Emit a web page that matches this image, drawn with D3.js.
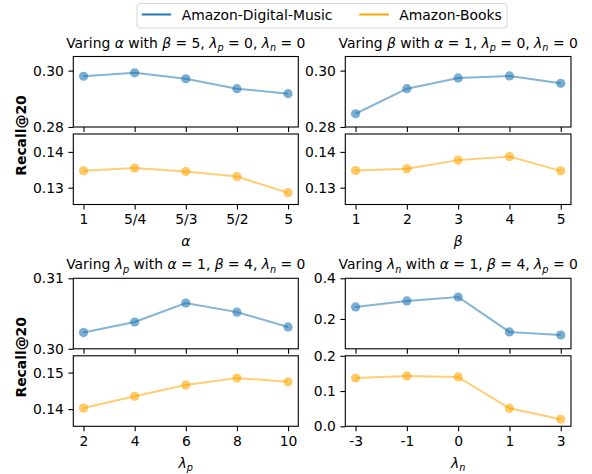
<!DOCTYPE html>
<html><head><meta charset="utf-8">
<script src="https://cdn.jsdelivr.net/npm/d3@7"></script>
<style>body{margin:0;background:#fff}svg{display:block}text{font-family:"DejaVu Sans",sans-serif;fill:#000}</style>
</head><body><svg id="c" width="592" height="474"></svg>
<script>
// ---- data ----
const seriesNames = ["Amazon-Digital-Music", "Amazon-Books"];
const alphaCats = ["1", "5/4", "5/3", "5/2", "5"];
const alphaMusic = [0.2980, 0.2992, 0.2971, 0.2936, 0.2918];
const alphaBooks = [0.1347, 0.1355, 0.1345, 0.1331, 0.1286];
const betaCats = ["1", "2", "3", "4", "5"];
const betaMusic = [0.2847, 0.2936, 0.2974, 0.2981, 0.2955];
const betaBooks = [0.1348, 0.1353, 0.1377, 0.1387, 0.1347];
const lpCats = ["2", "4", "6", "8", "10"];
const lpMusic = [0.3023, 0.3038, 0.3065, 0.3052, 0.3031];
const lpBooks = [0.1403, 0.1435, 0.1466, 0.1485, 0.1475];
const lnCats = ["-3", "-1", "0", "1", "3"];
const lnMusic = [0.259, 0.2885, 0.308, 0.136, 0.121];
const lnBooks = [0.137, 0.143, 0.140, 0.051, 0.020];
// y tick values
const alphaMusicTicks = [0.28, 0.30], alphaBooksTicks = [0.13, 0.14];
const betaMusicTicks = [0.28, 0.30], betaBooksTicks = [0.13, 0.14];
const lpMusicTicks = [0.30, 0.31], lpBooksTicks = [0.14, 0.15];
const lnMusicTicks = [0.2, 0.4], lnBooksTicks = [0.0, 0.1, 0.2];

const svg = d3.select("#c");
const colors = ["#1f77b4", "#ffa500"];
const FS = 13.9;

function richText(g, x, y, parts, anchor) {
  const t = g.append("text").attr("x", x).attr("y", y).attr("text-anchor", anchor || "middle").style("font-size", FS + "px");
  parts.forEach(p => {
    const s = t.append("tspan").text(p.t);
    if (p.i) s.style("font-style", "italic");
    if (p.sub) s.style("font-size", (FS * 0.7) + "px").attr("dy", 3.5);
    if (p.after) s.attr("dy", -3.5);
  });
  return t;
}
const I = s => ({t: s, i: true});
const SUB = s => ({t: s, i: true, sub: true});

const panels = [
  {x0: 73.3, x1: 298.3, top: 56.5, cats: alphaCats, music: alphaMusic, books: alphaBooks,
   mDom: [0.28, 0.305], bDom: [0.1253, 0.145], mT: alphaMusicTicks, bT: alphaBooksTicks, fmtM: ".2f", fmtB: ".2f",
   title: [{t:"Varing "}, I("α"), {t:" with "}, I("β"), {t:" = 5, "}, I("λ"), SUB("p"), {t:" = 0, ", after:true}, I("λ"), SUB("n"), {t:" = 0", after:true}],
   xlab: [I("α")], ylab: true},
  {x0: 345.3, x1: 571, top: 56.5, cats: betaCats, music: betaMusic, books: betaBooks,
   mDom: [0.28, 0.305], bDom: [0.1253, 0.145], mT: betaMusicTicks, bT: betaBooksTicks, fmtM: ".2f", fmtB: ".2f",
   title: [{t:"Varing "}, I("β"), {t:" with "}, I("α"), {t:" = 1, "}, I("λ"), SUB("p"), {t:" = 0, ", after:true}, I("λ"), SUB("n"), {t:" = 0", after:true}],
   xlab: [I("β")], ylab: false},
  {x0: 73.3, x1: 298.3, top: 278.3, cats: lpCats, music: lpMusic, books: lpBooks,
   mDom: [0.30, 0.31], bDom: [0.1353, 0.1546], mT: lpMusicTicks, bT: lpBooksTicks, fmtM: ".2f", fmtB: ".2f",
   title: [{t:"Varing "}, I("λ"), SUB("p"), {t:" with ", after:true}, I("α"), {t:" = 1, "}, I("β"), {t:" = 4, "}, I("λ"), SUB("n"), {t:" = 0", after:true}],
   xlab: [I("λ"), SUB("p")], ylab: true},
  {x0: 345.3, x1: 571, top: 278.3, cats: lnCats, music: lnMusic, books: lnBooks,
   mDom: [0.053, 0.4], bDom: [0, 0.2], mT: lnMusicTicks, bT: lnBooksTicks, fmtM: ".1f", fmtB: ".1f",
   title: [{t:"Varing "}, I("λ"), SUB("n"), {t:" with ", after:true}, I("α"), {t:" = 1, "}, I("β"), {t:" = 4, "}, I("λ"), SUB("p"), {t:" = 0", after:true}],
   xlab: [I("λ"), SUB("n")], ylab: false}
];

const H = 70.5, GAP = 7;

panels.forEach((p) => {
  const g = svg.append("g");
  const x = d3.scaleLinear().domain([-0.2, p.cats.length - 1 + 0.2]).range([p.x0, p.x1]);
  const subs = [
    {vals: p.music, dom: p.mDom, ticks: p.mT, fmt: p.fmtM, y0: p.top, c: colors[0], labels: false},
    {vals: p.books, dom: p.bDom, ticks: p.bT, fmt: p.fmtB, y0: p.top + H + GAP, c: colors[1], labels: true}
  ];
  subs.forEach(s => {
    const y = d3.scaleLinear().domain(s.dom).range([s.y0 + H, s.y0]);
    const ax = g.append("g");
    const ya = ax.append("g").attr("transform", `translate(${p.x0},0)`)
      .call(d3.axisLeft(y).tickValues(s.ticks).tickFormat(d3.format(s.fmt)).tickSize(4.9).tickPadding(4.5));
    ya.select(".domain").remove();
    ya.selectAll("text").style("font-size", FS + "px").style("font-family", "DejaVu Sans").attr("fill", "#000");
    ya.selectAll("line").attr("stroke", "#000").attr("stroke-width", 1.1);
    const xa = ax.append("g").attr("transform", `translate(0,${s.y0 + H})`)
      .call(d3.axisBottom(x).tickValues(d3.range(p.cats.length)).tickFormat(i => s.labels ? p.cats[i] : "").tickSize(4.9).tickPadding(4.5));
    xa.select(".domain").remove();
    xa.selectAll("text").style("font-size", FS + "px").style("font-family", "DejaVu Sans").attr("fill", "#000");
    xa.selectAll("line").attr("stroke", "#000").attr("stroke-width", 1.1);
    const line = d3.line().x((d, i) => x(i)).y(d => y(d));
    g.append("path").datum(s.vals).attr("d", line).attr("fill", "none")
      .attr("stroke", s.c).attr("stroke-width", 2).attr("stroke-opacity", 0.55);
    g.selectAll(null).data(s.vals).enter().append("circle")
      .attr("cx", (d, i) => x(i)).attr("cy", d => y(d)).attr("r", 4.6)
      .attr("fill", s.c).attr("fill-opacity", 0.6);
    g.append("rect").attr("x", p.x0).attr("y", s.y0).attr("width", p.x1 - p.x0).attr("height", H)
      .attr("fill", "none").attr("stroke", "#000").attr("stroke-width", 1.1);
  });
  richText(g, (p.x0 + p.x1) / 2, p.top - 9, p.title);
  richText(g, (p.x0 + p.x1) / 2, p.top + 2 * H + GAP + 41.5, p.xlab);
  if (p.ylab) {
    const cy = p.top + 79;
    g.append("text").attr("transform", `translate(25.5,${cy}) rotate(-90)`).attr("text-anchor", "middle")
      .style("font-size", FS + "px").style("font-weight", "bold").text("Recall@20");
  }
});

// legend
const lg = svg.append("g");
lg.append("rect").attr("x", 137).attr("y", 3.5).attr("width", 370).attr("height", 24.5).attr("rx", 3)
  .attr("fill", "#fff").attr("stroke", "#d6d6d6").attr("stroke-width", 1);
const legendPos = [{lx: 141.7, tx: 181.7}, {lx: 359.3, tx: 399.3}];
seriesNames.forEach((n, i) => {
  lg.append("line").attr("x1", legendPos[i].lx).attr("x2", legendPos[i].lx + 29.5).attr("y1", 14.5).attr("y2", 14.5)
    .attr("stroke", colors[i]).attr("stroke-width", 2);
  lg.append("text").attr("x", legendPos[i].tx).attr("y", 19.5).style("font-size", FS + "px").text(n);
});
</script></body></html>
